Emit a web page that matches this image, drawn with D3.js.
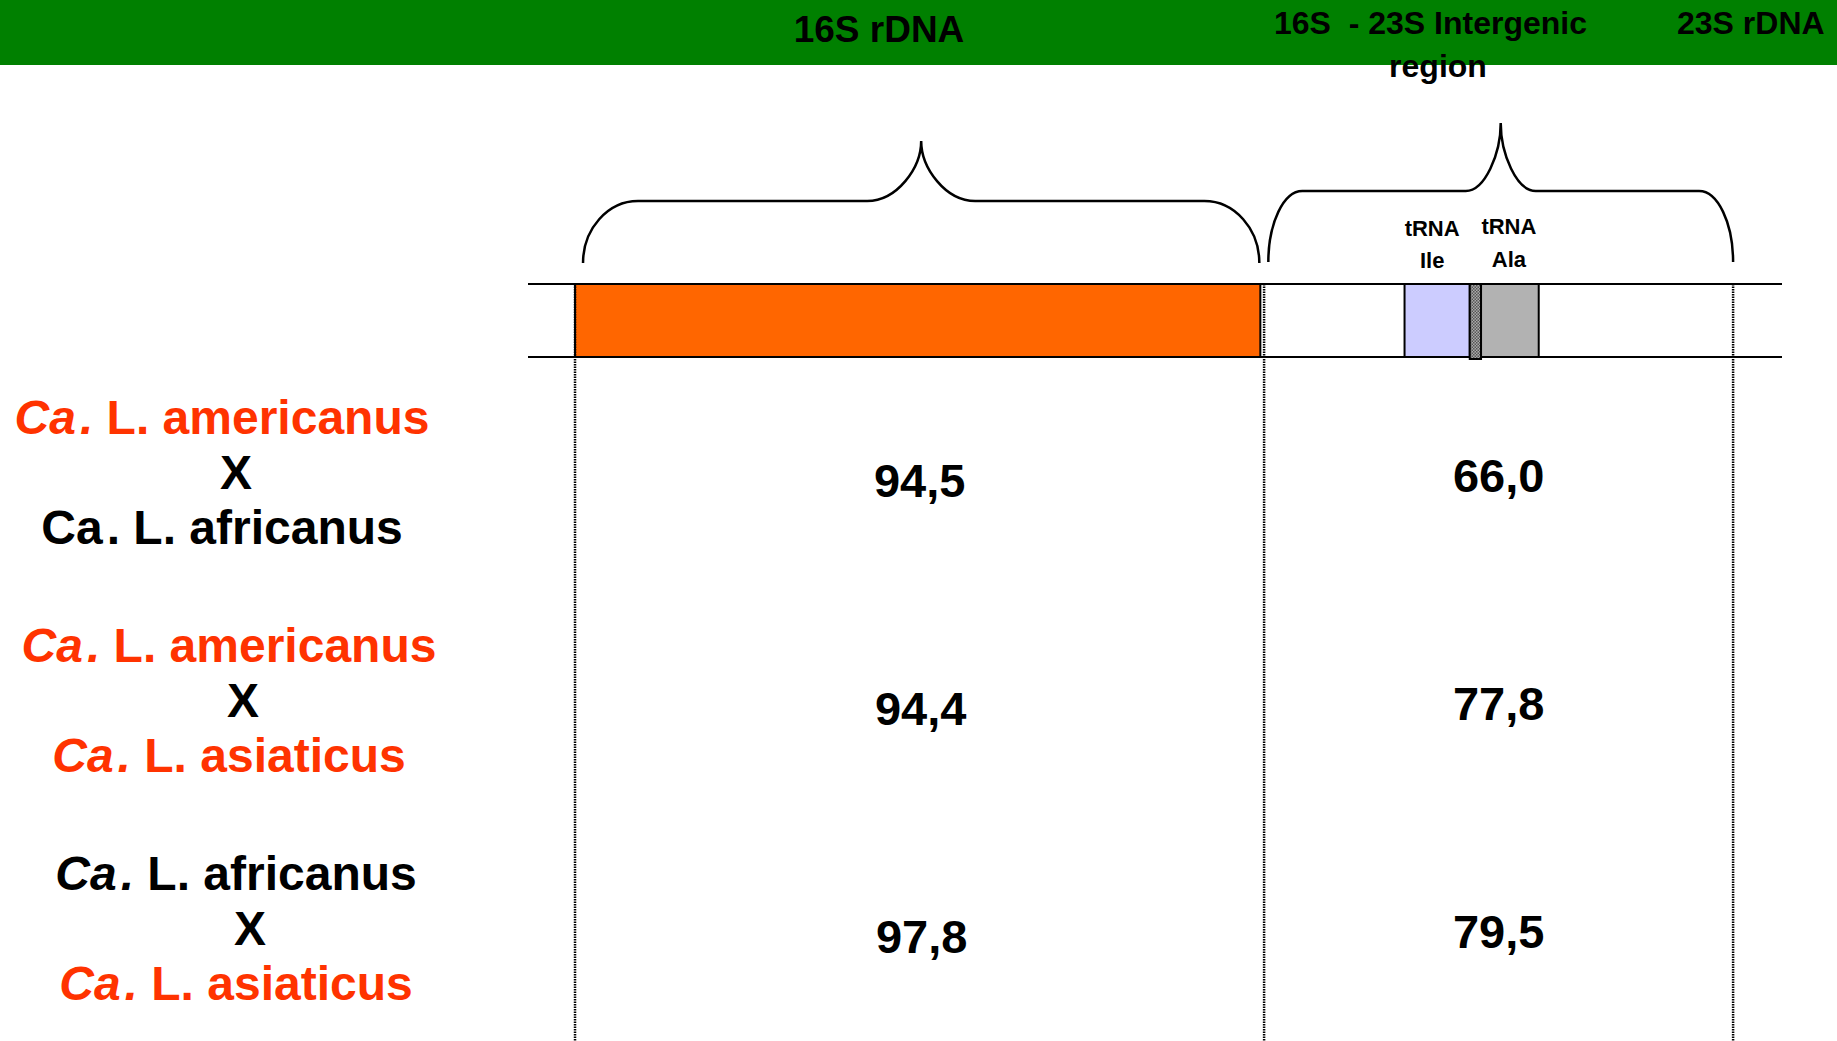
<!DOCTYPE html>
<html>
<head>
<meta charset="utf-8">
<script src="https://cdn.jsdelivr.net/npm/d3@7"></script>
<style>
body { margin: 0; background: #fff; }
text { font-family: "Liberation Sans", Arial, sans-serif; font-weight: bold; white-space: pre; }
</style>
</head>
<body>
<div id="chart"></div>
<script>
// region titles in the header band
const headerLabels = ["16S rDNA", "16S  - 23S Intergenic", "region", "23S rDNA"];

// operon segments, schematic units 0..100 along the bar
const segNames = ["16S", "ITS-a", "tRNA Ile", "spacer", "tRNA Ala", "ITS-b"];
const segStart = [3.75, 58.4, 69.9, 75.1, 76.0, 80.6];
const segEnd   = [58.4, 69.9, 75.1, 76.0, 80.6, 96.1];
const boundaries = [3.75, 58.7, 96.1];

// species compared, one row each
const speciesTop    = ["americanus", "americanus", "africanus"];
const speciesBottom = ["africanus", "asiaticus", "asiaticus"];

// % identity per region
const identity16S = [94.5, 94.4, 97.8];
const identityITS = [66.0, 77.8, 79.5];

const width = 1837;
const height = 1041;
const red = "#FF3300";
const segFill = { "16S": "#FF6600", "ITS-a": "none", "tRNA Ile": "#CCCCFF", "spacer": "url(#hatch)", "tRNA Ala": "#B2B2B2", "ITS-b": "none" };
const speciesColor = { americanus: red, asiaticus: red, africanus: "#000" };

const fmt = d3.formatLocale({ decimal: ",", thousands: ".", grouping: [3], currency: ["", ""] }).format(".1f");

let svg = d3.select("#chart").append("svg")
    .attr("width", width)
    .attr("height", height);

let defs = svg.append("defs");
let pat = defs.append("pattern").attr("id", "hatch")
    .attr("width", 3).attr("height", 3).attr("patternUnits", "userSpaceOnUse");
pat.append("rect").attr("width", 3).attr("height", 3).attr("fill", "#aaa");
pat.append("rect").attr("width", 1.5).attr("height", 1.5).attr("fill", "#555");
pat.append("rect").attr("x", 1.5).attr("y", 1.5).attr("width", 1.5).attr("height", 1.5).attr("fill", "#555");

let xScale = d3.scaleLinear().domain([0, 100]).range([528, 1782]);
let rowScale = d3.scaleLinear().domain([0, 2]).range([489, 945]);

const barTop = 284, barBottom = 357;

// header band
svg.append("rect").attr("x", 0).attr("y", 0).attr("width", width).attr("height", 65).attr("fill", "#008000");
svg.append("text").attr("x", 879).attr("y", 42).attr("text-anchor", "middle").attr("font-size", 37).text(headerLabels[0]);
svg.append("text").attr("x", 1274).attr("y", 34).attr("font-size", 32).text(headerLabels[1]);
svg.append("text").attr("x", 1438).attr("y", 77).attr("text-anchor", "middle").attr("font-size", 32).text(headerLabels[2]);
svg.append("text").attr("x", 1677).attr("y", 34).attr("font-size", 32).text(headerLabels[3]);

// curly brace
function brace(x0, x1, yEnd, yMid, yTip, rx, trx) {
    const xm = (x0 + x1) / 2, k = 0.55;
    const p = d3.path();
    p.moveTo(x0, yEnd);
    p.bezierCurveTo(x0, yEnd - k * (yEnd - yMid), x0 + rx * (1 - k), yMid, x0 + rx, yMid);
    p.lineTo(xm - trx, yMid);
    p.bezierCurveTo(xm - trx * (1 - k), yMid, xm, yMid - k * (yMid - yTip), xm, yTip);
    p.bezierCurveTo(xm, yMid - k * (yMid - yTip), xm + trx * (1 - k), yMid, xm + trx, yMid);
    p.lineTo(x1 - rx, yMid);
    p.bezierCurveTo(x1 - rx * (1 - k), yMid, x1, yEnd - k * (yEnd - yMid), x1, yEnd);
    return p.toString();
}

svg.append("path")
    .attr("d", brace(xScale(segStart[0]) + 8, xScale(segEnd[0]) - 1, 263, 201, 141, 55, 54))
    .attr("fill", "none").attr("stroke", "#000").attr("stroke-width", 2.5);
svg.append("path")
    .attr("d", brace(xScale(segEnd[0]) + 8, xScale(segEnd[5]), 262, 191, 123, 34, 35))
    .attr("fill", "none").attr("stroke", "#000").attr("stroke-width", 2.5);

// tRNA labels
["tRNA Ile", "tRNA Ala"].forEach((name, i) => {
    const idx = segNames.indexOf(name);
    const cx = (xScale(segStart[idx]) + xScale(segEnd[idx])) / 2 - (i == 0 ? 5 : 1);
    const parts = name.split(" ");
    svg.append("text").attr("x", cx).attr("y", 236 - i * 2).attr("text-anchor", "middle").attr("font-size", 22).text(parts[0]);
    svg.append("text").attr("x", cx).attr("y", 268 - i).attr("text-anchor", "middle").attr("font-size", 22).text(parts[1]);
});

// operon bar outline
[barTop, barBottom].forEach(y => {
    svg.append("line")
        .attr("x1", xScale(0)).attr("x2", xScale(100))
        .attr("y1", y).attr("y2", y)
        .attr("stroke", "#000").attr("stroke-width", 2);
});

svg.selectAll(".seg")
    .data(segNames.filter(n => segFill[n] != "none"))
    .enter()
    .append("rect")
    .attr("class", "seg")
    .attr("x", d => xScale(segStart[segNames.indexOf(d)]))
    .attr("y", barTop)
    .attr("width", d => xScale(segEnd[segNames.indexOf(d)]) - xScale(segStart[segNames.indexOf(d)]))
    .attr("height", d => d == "spacer" ? barBottom - barTop + 2 : barBottom - barTop)
    .attr("fill", d => segFill[d])
    .attr("stroke", "#000")
    .attr("stroke-width", 2);

// dotted separators
svg.selectAll(".sep")
    .data(boundaries)
    .enter()
    .append("line")
    .attr("class", "sep")
    .attr("x1", d => xScale(d)).attr("x2", d => xScale(d))
    .attr("y1", barTop).attr("y2", height)
    .attr("stroke", "#000").attr("stroke-width", 2.5)
    .attr("stroke-dasharray", "1.5,1");

// species pairs
function speciesLine(y, cx, species, italicCa) {
    let t = svg.append("text")
        .attr("x", cx).attr("y", y)
        .attr("text-anchor", "middle")
        .attr("font-size", 48)
        .attr("fill", speciesColor[species]);
    t.append("tspan").attr("font-style", italicCa ? "italic" : "normal").text("Ca");
    t.append("tspan").attr("font-style", italicCa ? "italic" : "normal").attr("dx", 4).text(".");
    t.append("tspan").text(" L. " + species);
}

speciesTop.forEach((sp, i) => {
    const y = rowScale(i);
    const cx = 222 + i * 7;
    speciesLine(y - 55, cx, sp, true);
    svg.append("text").attr("x", cx + 14).attr("y", y).attr("text-anchor", "middle").attr("font-size", 48).text("X");
    speciesLine(y + 55, cx, speciesBottom[i], i != 0);
});

// identity values
svg.selectAll(".v16")
    .data(identity16S)
    .enter()
    .append("text")
    .attr("class", "v16")
    .attr("x", (d, i) => (xScale(segStart[0]) + xScale(segEnd[0])) / 2 + 2 + i)
    .attr("y", (d, i) => rowScale(i) + 8)
    .attr("text-anchor", "middle")
    .attr("font-size", 47)
    .text(d => fmt(d));

svg.selectAll(".vits")
    .data(identityITS)
    .enter()
    .append("text")
    .attr("class", "vits")
    .attr("x", (xScale(segEnd[0]) + xScale(segEnd[5])) / 2 + 2)
    .attr("y", (d, i) => rowScale(i) + 3)
    .attr("text-anchor", "middle")
    .attr("font-size", 47)
    .text(d => fmt(d));
</script>
</body>
</html>
